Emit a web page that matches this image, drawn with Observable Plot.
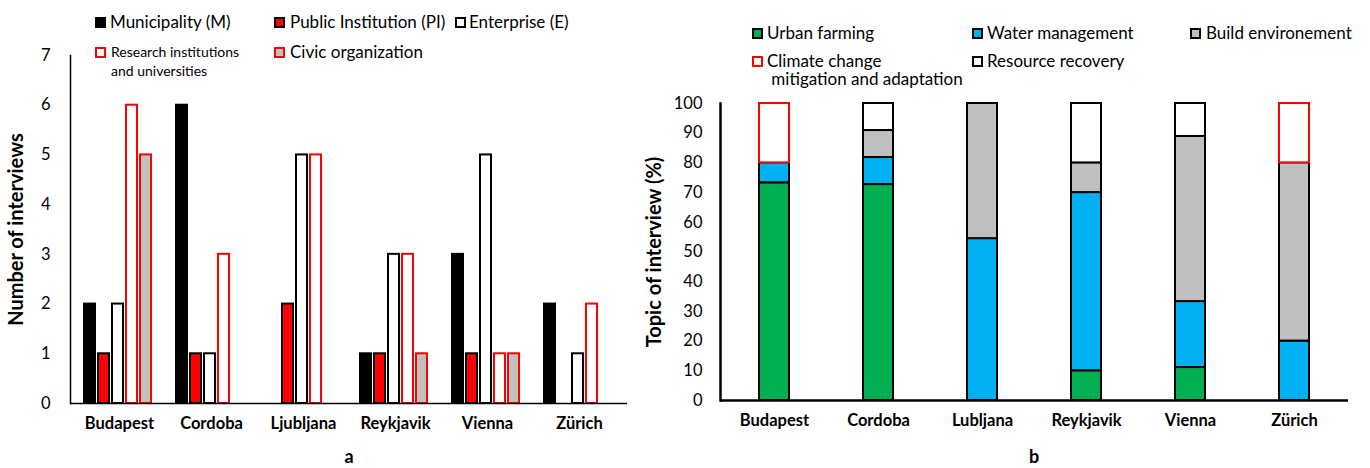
<!DOCTYPE html>
<html><head><meta charset="utf-8">
<script src="https://cdn.jsdelivr.net/npm/d3@7"></script>
<script src="https://cdn.jsdelivr.net/npm/@observablehq/plot@0.6"></script>
<style>
body{margin:0;background:#fff;font-family:Lato,sans-serif;color:#000}
#root{position:relative;width:1370px;height:468px;overflow:hidden;background:#fff}
.layer{position:absolute;top:0}
.sw{position:absolute;width:11px;height:11px;box-sizing:border-box;border:2px solid #000}
.lt{position:absolute;font-size:17px;line-height:18px;white-space:pre;color:#000}
.lt.small{font-size:14px;line-height:19px}
.panel{position:absolute;font-weight:700;font-size:18px;line-height:18px;transform:translate(-50%,-50%)}
svg [aria-label="y-axis label"] text{font-weight:700;font-size:20px}
svg [aria-label="x-axis tick label"] text{font-weight:700;font-size:16.5px}
svg [aria-label="y-axis tick label"] text{font-size:16.5px}
</style>
</head><body>
<div id="root"></div>
<script>
// ---------- data: panel a ----------
const cities = ["Budapest", "Cordoba", "Ljubljana", "Reykjavik", "Vienna", "Zürich"];
const stakeholderTypes = ["Municipality (M)", "Public Institution (PI)", "Enterprise (E)", "Research institutions\nand universities", "Civic organization"];
const municipality      = [2, 6, 0, 1, 3, 2];
const publicInstitution = [1, 1, 2, 1, 1, 0];
const enterprise        = [2, 1, 5, 3, 5, 1];
const research          = [6, 3, 5, 3, 1, 2];
const civic             = [5, 0, 0, 1, 1, 0];
const yTicksA = [0, 1, 2, 3, 4, 5, 6, 7];

// ---------- data: panel b ----------
const citiesB = ["Budapest", "Cordoba", "Lubljana", "Reykjavik", "Vienna", "Zürich"];
const topics = ["Urban farming", "Water management", "Build environement", "Resource recovery", "Climate change\n mitigation and adaptation"];
const urbanFarming     = [73.3, 72.7, 0, 10, 11.1, 0];
const waterManagement  = [6.7, 9.1, 54.5, 60, 22.2, 20];
const buildEnvironment = [0, 9.1, 45.5, 10, 55.6, 60];
const resourceRecovery = [0, 9.1, 0, 20, 11.1, 0];
const climateChange    = [20, 0, 0, 0, 0, 20];
const yTicksB = [0, 10, 20, 30, 40, 50, 60, 70, 80, 90, 100];

// ---------- styles ----------
const styleA = {
  [stakeholderTypes[0]]: {fill: "#000000", stroke: "#000000"},
  [stakeholderTypes[1]]: {fill: "#ff0000", stroke: "#000000"},
  [stakeholderTypes[2]]: {fill: "#ffffff", stroke: "#000000"},
  [stakeholderTypes[3]]: {fill: "#ffffff", stroke: "#ff0000"},
  [stakeholderTypes[4]]: {fill: "#c0c0c0", stroke: "#ff0000"}
};
const styleB = {
  [topics[0]]: {fill: "#00b050", stroke: "#000000"},
  [topics[1]]: {fill: "#00b0f0", stroke: "#000000"},
  [topics[2]]: {fill: "#bfbfbf", stroke: "#000000"},
  [topics[3]]: {fill: "#ffffff", stroke: "#000000"},
  [topics[4]]: {fill: "#ffffff", stroke: "#ff0000"}
};

// ---------- tables ----------
const seriesA = [municipality, publicInstitution, enterprise, research, civic];
const rowsA = [];
cities.forEach((c, i) => stakeholderTypes.forEach((t, j) => rowsA.push({city: c, type: t, value: seriesA[j][i]})));
const seriesB = [urbanFarming, waterManagement, buildEnvironment, resourceRecovery, climateChange];
const rowsB = [];
citiesB.forEach((c, i) => topics.forEach((t, j) => { if (seriesB[j][i] > 0) rowsB.push({city: c, topic: t, value: seriesB[j][i]}); }));

const root = document.getElementById("root");
const font = {fontFamily: "Lato, sans-serif", fontSize: "16.5px", color: "#000", background: "transparent", overflow: "visible"};

// ---------- panel a ----------
const dimA = {width: 640, height: 468, marginLeft: 70, marginRight: 13, marginTop: 55, marginBottom: 65};
const fxPad = {paddingInner: 0.26, paddingOuter: 0.13};
const barsA = Plot.plot({
  ...dimA,
  style: font,
  fx: {domain: cities, ...fxPad, axis: null, label: null},
  x: {domain: stakeholderTypes, paddingInner: 0.18, paddingOuter: 0.0, axis: null},
  y: {domain: [0, 7], axis: null},
  marks: stakeholderTypes.map(t => Plot.barY(rowsA.filter(d => d.type === t && d.value > 0), {
    fx: "city", x: "type", y: "value", fill: styleA[t].fill, stroke: styleA[t].stroke, strokeWidth: 2
  }))
});
const axesA = Plot.plot({
  ...dimA,
  style: font,
  x: {domain: cities, ...fxPad, axis: null},
  y: {domain: [0, 7], axis: null},
  marks: [
    Plot.axisY({ticks: yTicksA, tickFormat: d => String(d), tickSize: 0, tickPadding: 20, label: "Number of interviews", labelArrow: "none", labelAnchor: "center", labelOffset: 62}),
    Plot.axisX({tickSize: 0, tickPadding: 14, label: null}),
    Plot.frame({anchor: "left", stroke: "#000", strokeWidth: 1.5}),
    Plot.ruleY([0], {stroke: "#000", strokeWidth: 1.5})
  ]
});
[barsA, axesA].forEach(s => { s.classList.add("layer"); s.style.left = "0px"; root.appendChild(s); });

// ---------- panel b ----------
const chartB = Plot.plot({
  width: 740, height: 468, marginLeft: 90, marginRight: 22, marginTop: 103, marginBottom: 68,
  style: font,
  color: {type: "identity"},
  x: {domain: citiesB, paddingInner: 0.713, paddingOuter: 0.357, axis: null},
  y: {domain: [0, 100], axis: null},
  marks: [
    Plot.barY(rowsB, {x: "city", y: "value", z: "topic", fill: d => styleB[d.topic].fill, stroke: d => styleB[d.topic].stroke, strokeWidth: 2}),
    Plot.axisY({ticks: yTicksB, tickFormat: d => String(d), tickSize: 0, tickPadding: 18, label: "Topic of interview (%)", labelArrow: "none", labelAnchor: "center", labelOffset: 74}),
    Plot.axisX({tickSize: 0, tickPadding: 14, label: null}),
    Plot.frame({anchor: "left", stroke: "#000", strokeWidth: 2.5}),
    Plot.ruleY([0], {stroke: "#000", strokeWidth: 2.5})
  ]
});
chartB.classList.add("layer"); chartB.style.left = "630px"; root.appendChild(chartB);

// ---------- legends ----------
function legendItem(label, st, sx, sy, tx, ty, small) {
  const sw = document.createElement("div");
  sw.className = "sw";
  sw.style.left = sx + "px"; sw.style.top = sy + "px";
  sw.style.background = st.fill; sw.style.borderColor = st.stroke;
  root.appendChild(sw);
  const t = document.createElement("div");
  t.className = "lt" + (small ? " small" : "");
  t.style.left = tx + "px"; t.style.top = ty + "px";
  t.textContent = label;
  root.appendChild(t);
}
const legPosA = [[95, 17, 110, 13], [274, 17, 290, 13], [455, 17, 469, 13], [95, 47, 111, 42, true], [274, 47, 290, 43]];
stakeholderTypes.forEach((t, i) => legendItem(t, styleA[t], ...legPosA[i]));
const legPosB = [[752, 28, 767, 24], [972, 28, 987, 24], [1190, 28, 1206, 24], [972, 56, 987, 52], [752, 56, 767, 52]];
topics.forEach((t, i) => legendItem(t, styleB[t], ...legPosB[i]));

// ---------- panel letters ----------
[["a", 349, 456], ["b", 1034, 456]].forEach(([s, x, y]) => {
  const d = document.createElement("div");
  d.className = "panel"; d.textContent = s;
  d.style.left = x + "px"; d.style.top = y + "px";
  root.appendChild(d);
});
</script>
</body></html>
